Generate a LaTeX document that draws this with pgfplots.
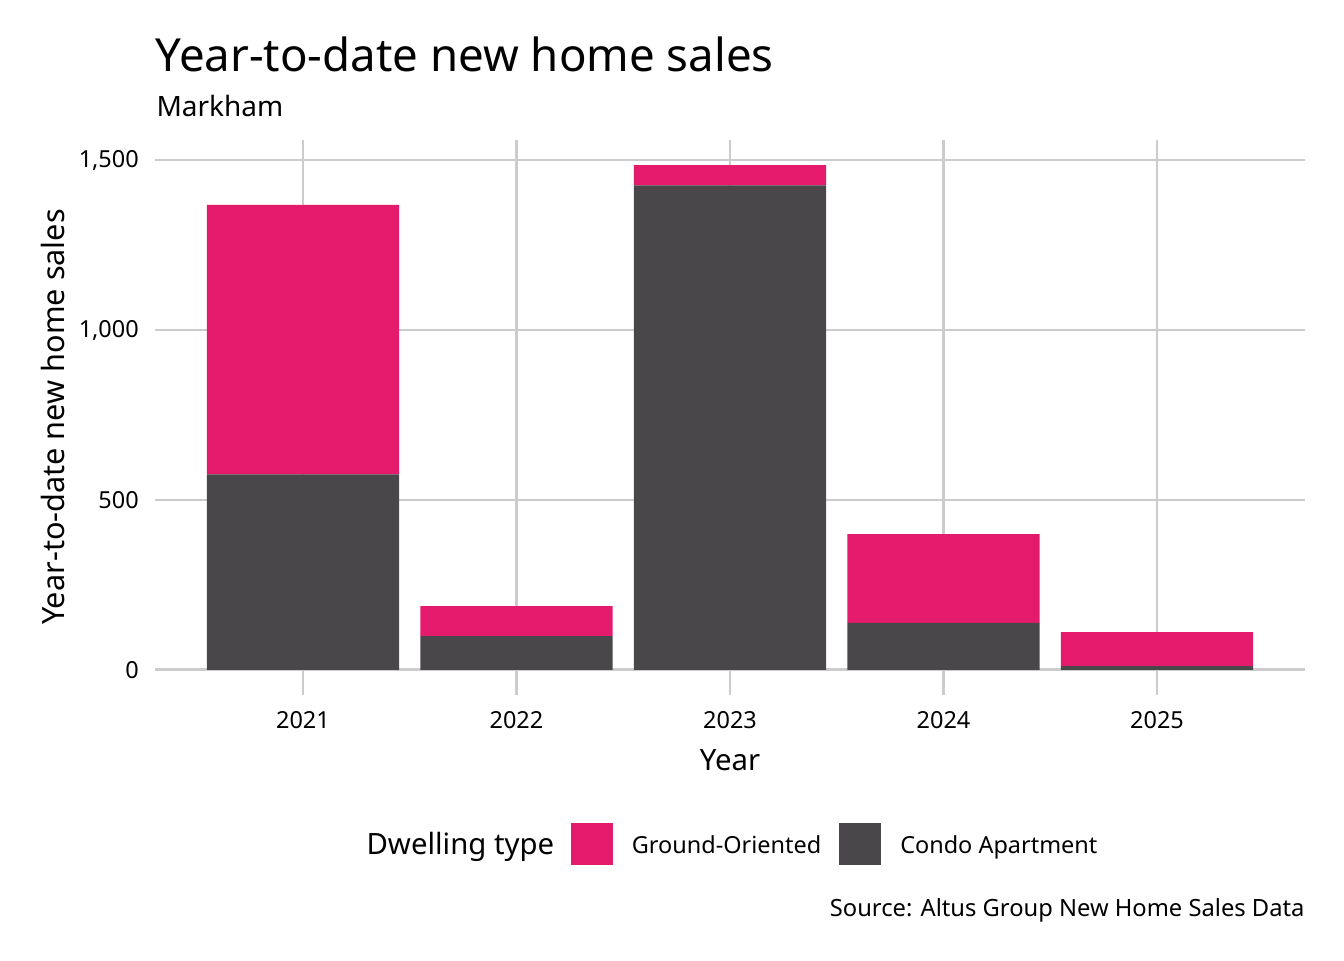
\documentclass[border=0pt]{standalone}
\usepackage{pgfplots}
\pgfplotsset{compat=1.18}
\usepackage{fontspec}
\setmainfont{Noto Sans}
\definecolor{ground}{RGB}{228,26,108}
\definecolor{condo}{RGB}{74,71,74}
\definecolor{gridgray}{RGB}{204,204,204}

\begin{document}
\begin{tikzpicture}
% page frame and texts placed in pixel units of the 1344x960 reference
\begin{scope}[shift={(0,360pt)},x=0.375pt,y=-0.375pt]
  \path[use as bounding box] (0,0) rectangle (1344,960);
  \node[anchor=base west,inner sep=0pt,font=\fontsize{17.1}{20}\selectfont] at (155,71) {Year-to-date new home sales};
  \node[anchor=base west,inner sep=0pt,font=\fontsize{10.5}{12}\selectfont] at (156,116) {Markham};
  \node[anchor=base,inner sep=0pt,rotate=90,font=\fontsize{11.5}{13}\selectfont] at (65,417) {Year-to-date new home sales};
  \node[anchor=base,inner sep=0pt,font=\fontsize{11}{13}\selectfont] at (730,770) {Year};
  \node[anchor=base west,inner sep=0pt,font=\fontsize{11}{13}\selectfont] at (366,854) {Dwelling type};
  \node[anchor=base east,inner sep=0pt,font=\fontsize{8.9}{10}\selectfont] at (1305,916) {Source: Altus Group New Home Sales Data};
\end{scope}

\begin{axis}[
    at={(58.125pt,99.375pt)}, anchor=south west,
    scale only axis, width=431.25pt, height=208.125pt,
    ybar stacked, bar width=0.9,
    xmin=-0.693, xmax=4.693,
    ymin=-74.25, ymax=1559.25,
    xtick={0,1,2,3,4},
    xticklabels={2021,2022,2023,2024,2025},
    ytick={0,500,1000,1500},
    /pgf/number format/assume math mode=true,
    /pgf/number format/1000 sep={,},
    axis line style={draw=none},
    major tick length=0pt,
    xmajorgrids, ymajorgrids,
    grid style={gridgray, line width=1pt},
    tick label style={font=\fontsize{8.8}{10}\selectfont, inner sep=0pt},
    xticklabel style={anchor=north, yshift=-5.9pt},
    yticklabel style={anchor=east, xshift=-5.9pt},
    reverse legend,
    legend columns=2,
    legend style={at={(0.3617,-0.2685)}, anchor=west, draw=none, fill=none,
        inner sep=0pt, outer sep=0pt,
        nodes={inner sep=0pt, font=\fontsize{8.8}{10}\selectfont},
        /tikz/every odd column/.append style={column sep=7.1pt},
        /tikz/every even column/.append style={column sep=6.75pt}},
    legend cell align=left,
    legend image code/.code={\fill[#1] (0pt,-6.9pt) rectangle (15.75pt,8.85pt);},
]
\addplot[fill=condo, draw=none] coordinates {(0,575) (1,99) (2,1426) (3,138) (4,11)};
\addlegendentry{Condo Apartment}
\addplot[fill=ground, draw=none] coordinates {(0,793) (1,88) (2,59) (3,261) (4,100)};
\addlegendentry{Ground-Oriented}
\end{axis}
\end{tikzpicture}
\end{document}
